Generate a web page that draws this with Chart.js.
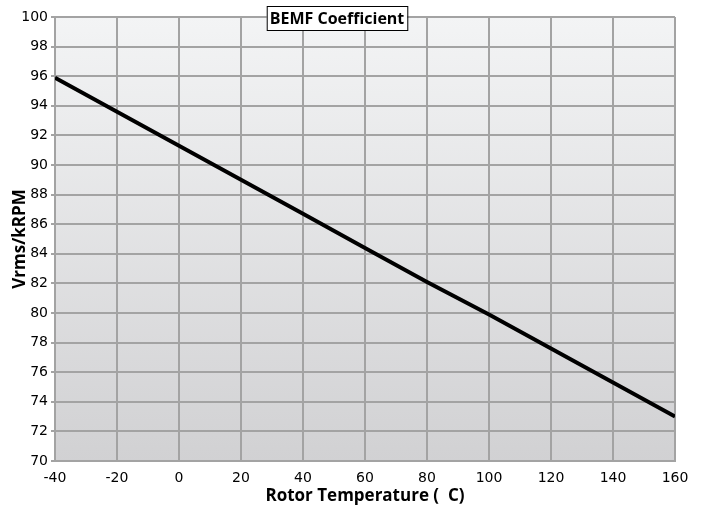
<!DOCTYPE html>
<html>
<head>
<meta charset="utf-8">
<script src="https://cdn.jsdelivr.net/npm/chart.js@4/dist/chart.umd.min.js"></script>
<style>
  html, body { margin: 0; padding: 0; background: #fff; }
  #wrap { width: 703px; height: 506px; }
</style>
</head>
<body>
<div id="wrap"><canvas id="bemfChart" width="703" height="506"></canvas></div>
<script>
// rotor temperature (C) and BEMF coefficient (Vrms/kRPM)
var temps = [-40, -20, 0, 20, 40, 60, 80, 90, 100, 120, 140, 160];
var bemf = [95.9, 93.6, 91.3, 89.0, 86.7, 84.4, 82.1, 81.0, 79.9, 77.6, 75.3, 73.0];

var xTicks = [-40, -20, 0, 20, 40, 60, 80, 100, 120, 140, 160];
var yTicks = [70, 72, 74, 76, 78, 80, 82, 84, 86, 88, 90, 92, 94, 96, 98, 100];

var points = temps.map(function (t, i) { return { x: t, y: bemf[i] }; });

// gradient background behind the plot area
var plotBackground = {
  id: 'plotBackground',
  beforeDraw: function (chart) {
    var ctx = chart.ctx, a = chart.chartArea;
    var g = ctx.createLinearGradient(0, a.top, 0, a.bottom);
    g.addColorStop(0, '#f3f4f5');
    g.addColorStop(1, '#d1d1d3');
    ctx.save();
    ctx.fillStyle = g;
    ctx.fillRect(a.left, a.top, a.right - a.left, a.bottom - a.top);
    ctx.restore();
  }
};

// boxed title sitting over the top of the plot
var boxedTitle = {
  id: 'boxedTitle',
  afterDraw: function (chart) {
    var ctx = chart.ctx;
    var text = 'BEMF Coefficient';
    ctx.save();
    ctx.font = 'bold 16px "Open Sans", sans-serif';
    var w = ctx.measureText(text).width + 6;
    var cx = 337, top = 6, h = 24;
    ctx.fillStyle = '#fff';
    ctx.fillRect(cx - w / 2, top, w, h);
    ctx.strokeStyle = '#000';
    ctx.lineWidth = 1;
    ctx.strokeRect(cx - w / 2 + 0.5, top + 0.5, w, h);
    ctx.fillStyle = '#000';
    ctx.textAlign = 'center';
    ctx.textBaseline = 'middle';
    ctx.fillText(text, cx, top + h / 2 + 1);
    ctx.restore();
  }
};

var ctx = document.getElementById('bemfChart').getContext('2d');
var chart = new Chart(ctx, {
  type: 'line',
  data: {
    datasets: [{
      label: 'BEMF',
      data: points,
      borderColor: '#000',
      borderWidth: 4,
      pointRadius: 0,
      fill: false,
      tension: 0
    }]
  },
  options: {
    responsive: false,
    animation: false,
    layout: { padding: { top: 17, right: 28, left: 0, bottom: 0 } },
    plugins: {
      legend: { display: false },
      tooltip: { enabled: false }
    },
    scales: {
      x: {
        type: 'linear',
        min: -40,
        max: 160,
        afterBuildTicks: function (s) { s.ticks = xTicks.map(function (v) { return { value: v }; }); },
        afterFit: function (s) { s.height = 45; },
        grid: { color: '#a3a3a3', lineWidth: 2, drawTicks: false },
        border: { color: '#a3a3a3', width: 2 },
        ticks: {
          color: '#000',
          font: { family: '"DejaVu Sans", sans-serif', size: 14 },
          padding: 9,
          maxRotation: 0
        },
        title: {
          display: true,
          text: 'Rotor Temperature (  C)',
          color: '#000',
          font: { family: '"Open Sans", sans-serif', size: 17, weight: 'bold' },
          padding: { top: 0, bottom: 0 }
        }
      },
      y: {
        min: 70,
        max: 100,
        afterBuildTicks: function (s) { s.ticks = yTicks.map(function (v) { return { value: v }; }); },
        afterFit: function (s) { s.width = 55; },
        grid: { color: '#a3a3a3', lineWidth: 2, drawTicks: true, tickLength: 4 },
        border: { color: '#a3a3a3', width: 2 },
        ticks: {
          color: '#000',
          font: { family: '"DejaVu Sans", sans-serif', size: 14 },
          padding: 3
        },
        title: {
          display: true,
          text: 'Vrms/kRPM',
          color: '#000',
          font: { family: '"Open Sans", sans-serif', size: 17, weight: 'bold' },
          padding: { top: 10, bottom: 0 }
        }
      }
    }
  },
  plugins: [plotBackground, boxedTitle]
});
</script>
</body>
</html>
